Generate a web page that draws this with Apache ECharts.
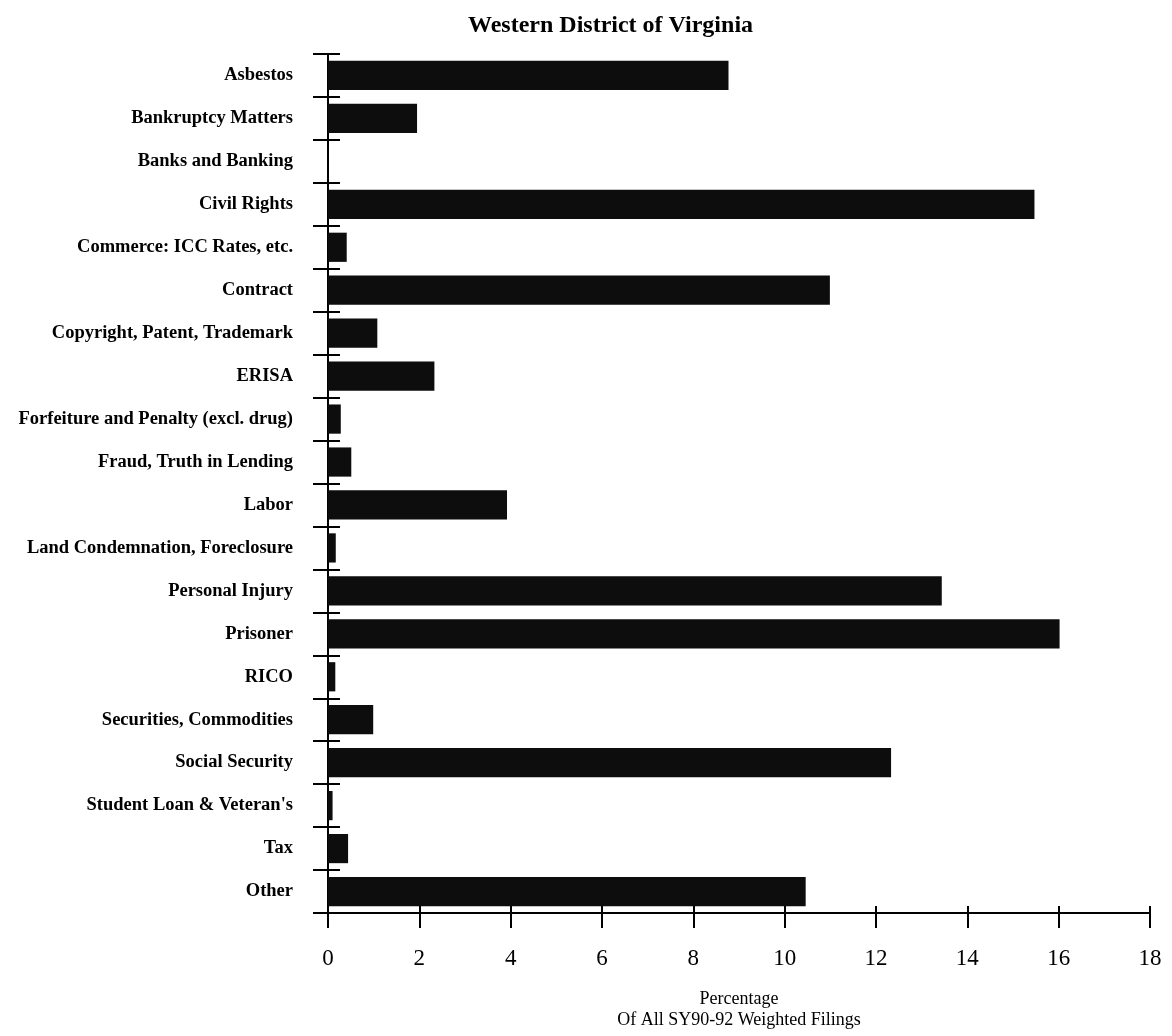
<!DOCTYPE html>
<html>
<head>
<meta charset="utf-8">
<script src="https://cdn.jsdelivr.net/npm/echarts@6/dist/echarts.min.js"></script>
<style>html,body{margin:0;padding:0;background:#fff;}#c{width:1172px;height:1036px;}</style>
</head>
<body>
<div id="c"></div>
<script>
const titleText = 'Western District of Virginia';
const categories = [
  'Asbestos', 'Bankruptcy Matters', 'Banks and Banking', 'Civil Rights',
  'Commerce: ICC Rates, etc.', 'Contract', 'Copyright, Patent, Trademark', 'ERISA',
  'Forfeiture and Penalty (excl. drug)', 'Fraud, Truth in Lending', 'Labor',
  'Land Condemnation, Foreclosure', 'Personal Injury', 'Prisoner', 'RICO',
  'Securities, Commodities', 'Social Security', "Student Loan & Veteran's", 'Tax', 'Other'
];
const values = [8.77, 1.95, 0, 15.47, 0.41, 10.99, 1.08, 2.33, 0.28, 0.51, 3.92, 0.17, 13.44, 16.02, 0.16, 0.99, 12.33, 0.10, 0.44, 10.46];
const xMin = 0, xMax = 18, xStep = 2;
const xName = 'Percentage\nOf All SY90-92 Weighted Filings';

const serif = '"Liberation Serif", "Times New Roman", serif';
const chart = echarts.init(document.getElementById('c'), null, {renderer: 'canvas'});
chart.setOption({
  backgroundColor: '#fff',
  animation: false,
  title: {
    text: titleText, left: 463, top: 9,
    textStyle: {fontFamily: serif, fontSize: 24, fontWeight: 'bold', color: '#000'}
  },
  grid: {left: 328, right: 22, top: 54, bottom: 123, containLabel: false},
  xAxis: [{
    type: 'value', min: xMin, max: xMax, interval: xStep, position: 'bottom',
    name: xName, nameLocation: 'middle', nameGap: 76,
    nameTextStyle: {fontFamily: serif, fontSize: 18, lineHeight: 21, color: '#000'},
    axisLine: {show: true, lineStyle: {color: '#000', width: 2}},
    axisTick: {show: true, length: 15, lineStyle: {color: '#000', width: 2}},
    axisLabel: {fontFamily: serif, fontSize: 23, color: '#000', margin: 34},
    splitLine: {show: false}
  }, {
    type: 'value', min: xMin, max: xMax, interval: xStep, position: 'bottom',
    axisLine: {show: false},
    axisTick: {show: true, inside: true, length: 7, lineStyle: {color: '#000', width: 2}},
    axisLabel: {show: false},
    splitLine: {show: false}
  }],
  yAxis: [{
    type: 'category', data: categories, inverse: true,
    axisLine: {show: true, lineStyle: {color: '#000', width: 2}},
    axisTick: {show: true, length: 15, lineStyle: {color: '#000', width: 2}},
    axisLabel: {fontFamily: serif, fontSize: 18.5, fontWeight: 'bold', color: '#000', margin: 35}
  }, {
    type: 'category', data: categories, inverse: true, position: 'left',
    axisLine: {show: false},
    axisTick: {show: true, inside: true, length: 12, lineStyle: {color: '#000', width: 2}},
    axisLabel: {show: false}
  }],
  series: [{
    type: 'bar', data: values, xAxisIndex: 0, yAxisIndex: 0,
    barCategoryGap: '32%',
    itemStyle: {color: '#0d0d0d'}
  }]
});
</script>
</body>
</html>
